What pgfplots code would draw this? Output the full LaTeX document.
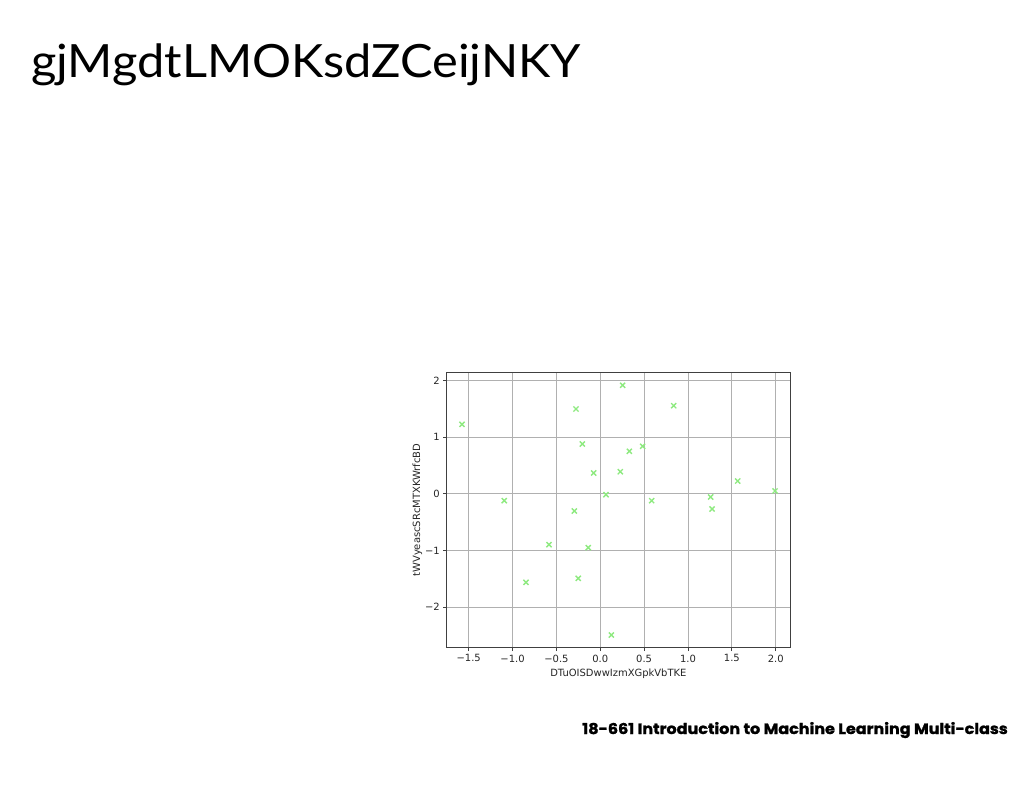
\documentclass[border=0pt]{standalone}
\usepackage{pgfplots}
\pgfplotsset{compat=1.18}
\usepackage{fontspec}
\setmainfont{DejaVu Sans}
\newfontfamily\titlefont{Lato}[FakeStretch=1.064]
\newfontfamily\footfont{Poppins}[FakeStretch=1.07, BoldFeatures={FakeBold=1.5}]
\definecolor{ptgreen}{HTML}{8EEA80}
\definecolor{gridgray}{HTML}{B0B0B0}
\definecolor{spine}{HTML}{404040}
\begin{document}
\begin{tikzpicture}[x=1bp,y=1bp]
\path[use as bounding box, fill=white] (0,0) rectangle (1024,-788);
\node[anchor=base west, inner sep=0, font=\titlefont\fontsize{46}{46}\selectfont] at (31,-78) {gjMgdtLMOKsdZCeijNKY};
\node[anchor=base east, inner sep=0, font=\footfont\bfseries\fontsize{15}{15}\selectfont] at (1008,-734) {18-661 Introduction to Machine Learning Multi-class};
\begin{axis}[
  at={(446.7bp,-647.7bp)}, anchor=south west,
  width=343.3bp, height=275.4bp, scale only axis,
  xmin=-1.751, xmax=2.163, ymin=-2.716, ymax=2.141,
  xtick={-1.5,-1,-0.5,0,0.5,1,1.5,2},
  xticklabels={−1.5,−1.0,−0.5,0.0,0.5,1.0,1.5,2.0},
  ytick={-2,-1,0,1,2},
  yticklabels={−2,−1,0,1,2},
  tick align=outside, tick pos=left,
  major tick length=3.5bp,
  tick style={spine, line width=0.8bp},
  axis line style={spine, line width=0.9bp},
  grid=major, grid style={gridgray, line width=0.8bp},
  ticklabel style={font=\fontsize{10}{10}\selectfont, text=black!85},
  label style={font=\fontsize{10}{10}\selectfont, text=black!85},
  xlabel={DTuOISDwwIzmXGpkVbTKE},
  ylabel={tWVyeascSRcMTXKWrfcBD},
  xlabel style={yshift=0bp},
  ylabel style={yshift=-4bp},
]
\addplot[only marks, mark=x, mark size=3.6bp, mark options={ptgreen, line width=1.4bp}] coordinates {
(-1.577,1.224) (-1.095,-0.123) (-0.847,-1.563) (-0.585,-0.899)
(-0.296,-0.305) (-0.277,1.494) (-0.251,-1.492) (-0.205,0.877)
(-0.137,-0.952) (-0.075,0.365) (0.065,-0.018) (0.126,-2.492)
(0.228,0.388) (0.255,1.912) (0.331,0.748) (0.483,0.836)
(0.586,-0.123) (0.837,1.552) (1.259,-0.058) (1.274,-0.270)
(1.567,0.224) (1.992,0.048)
};
\end{axis}
\end{tikzpicture}
\end{document}
